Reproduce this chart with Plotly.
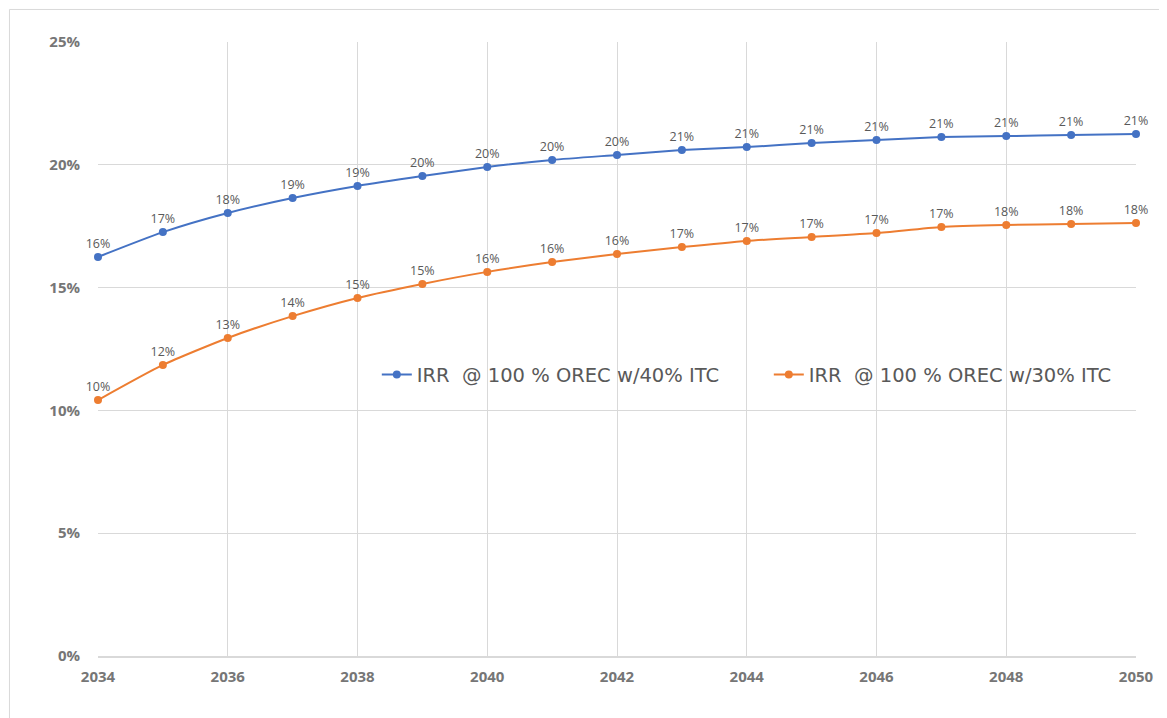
import plotly.graph_objects as go

years = list(range(2034, 2051))
irr_40 = [16.25, 17.26, 18.04, 18.65, 19.14, 19.54, 19.91, 20.20, 20.40, 20.60,
          20.72, 20.89, 21.01, 21.13, 21.17, 21.21, 21.25]
irr_30 = [10.42, 11.85, 12.95, 13.84, 14.58, 15.15, 15.64, 16.04, 16.37, 16.65,
          16.90, 17.06, 17.22, 17.47, 17.55, 17.59, 17.63]
names = ["IRR\u00a0\u00a0@ 100 % OREC w/40% ITC", "IRR\u00a0\u00a0@ 100 % OREC w/30% ITC"]
colors = ["#4472C4", "#ED7D31"]
y_ticks = [0, 0.05, 0.10, 0.15, 0.20, 0.25]
y_tick_labels = ["0%", "5%", "10%", "15%", "20%", "25%"]
x_ticks = list(range(2034, 2051, 2))

fig = go.Figure()
for name, vals, c in zip(names, [irr_40, irr_30], colors):
    fig.add_trace(go.Scatter(
        x=years, y=[v / 100 for v in vals], name=name,
        mode="lines+markers+text",
        line=dict(color=c, width=2, shape="spline", smoothing=0.6),
        marker=dict(color=c, size=8),
        texttemplate="%{y:.0%}", textposition="top center",
        textfont=dict(size=12.5, color="#595959", family="Open Sans"),
        cliponaxis=False,
    ))

fig.update_layout(
    width=1167, height=718,
    margin=dict(l=90, r=39, t=34, b=70),
    paper_bgcolor="white", plot_bgcolor="white",
    font=dict(family="Open Sans", color="#595959"),
    showlegend=True,
    legend=dict(orientation="h", x=0.2686, y=0.458, xanchor="left", yanchor="middle",
                font=dict(size=19.5, color="#595959", family="DejaVu Sans"), entrywidth=347,
                bgcolor="rgba(0,0,0,0)"),
    xaxis=dict(range=[2034, 2050], tickvals=x_ticks, showgrid=True, gridcolor="#d9d9d9",
               gridwidth=1, showline=True, linecolor="#d9d9d9", linewidth=2, zeroline=False,
               mirror=False, ticks="", ticklabelstandoff=6, automargin=False,
               tickfont=dict(size=15, color="#767676", family="Open Sans", weight="bold")),
    yaxis=dict(range=[0, 0.25], tickvals=y_ticks, ticktext=y_tick_labels, showgrid=True,
               gridcolor="#d9d9d9", gridwidth=1, zeroline=False, showline=False, ticks="",
               ticklabelstandoff=17, automargin=False,
               tickfont=dict(size=15, color="#767676", family="Open Sans", weight="bold")),
    shapes=[dict(type="rect", xref="paper", yref="paper", x0=-0.0853, x1=1.08,
                 y0=-0.3, y1=1.053, line=dict(color="#d9d9d9", width=1), layer="below")],
)

fig.write_html("out.html")
